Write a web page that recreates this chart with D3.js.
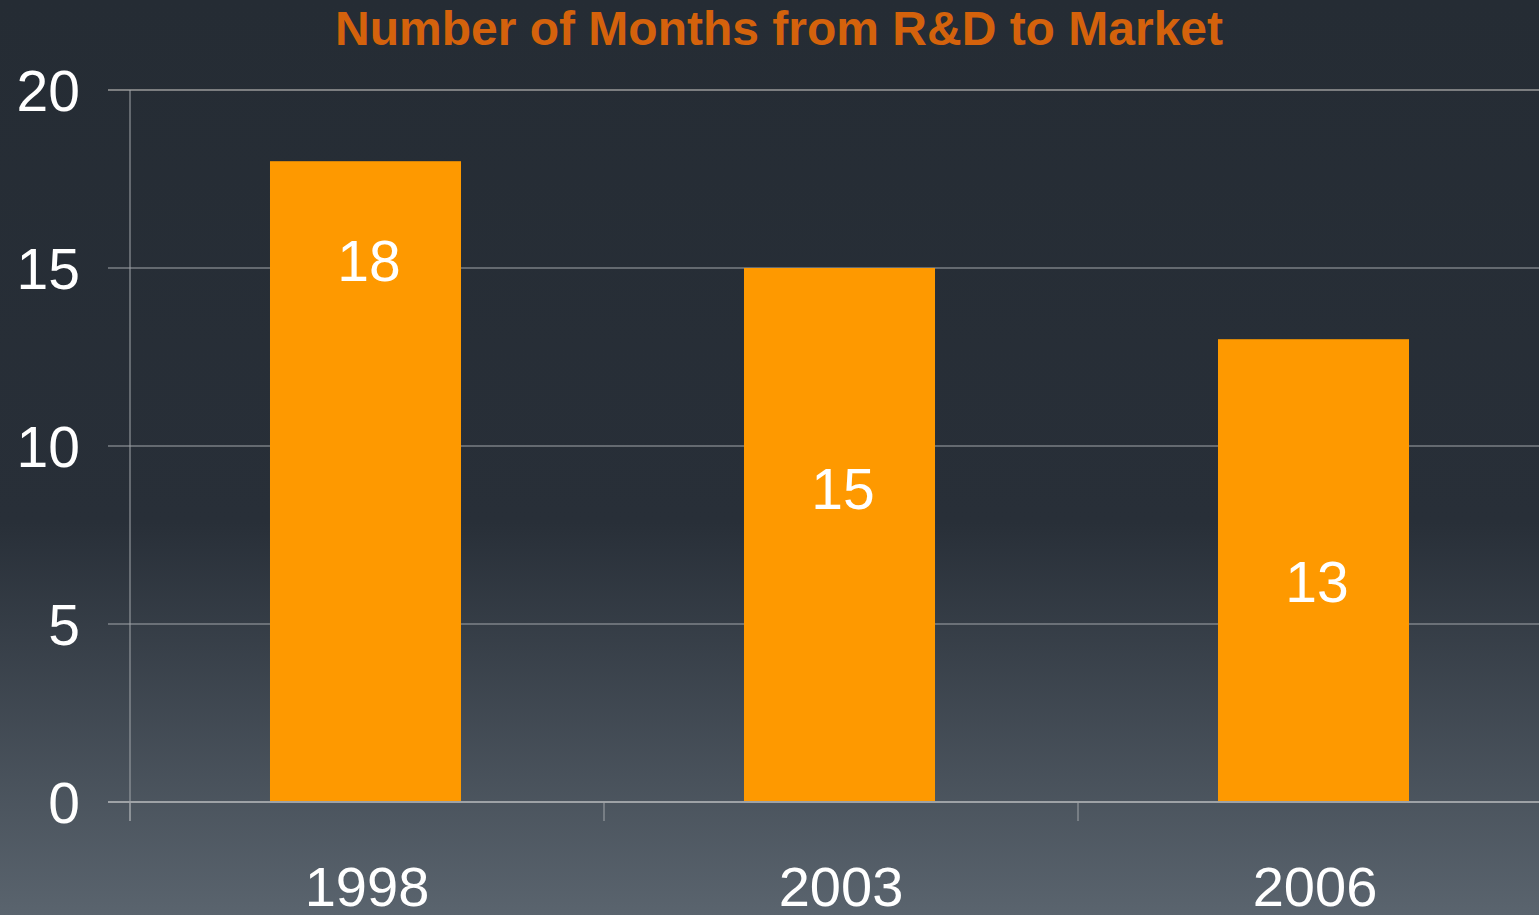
<!DOCTYPE html>
<html>
<head>
<meta charset="utf-8">
<script src="https://cdn.jsdelivr.net/npm/d3@7"></script>
<style>
  html, body { margin: 0; padding: 0; overflow: hidden; background: #262d35; }
  text { font-family: "Liberation Sans", Arial, Helvetica, sans-serif; }
</style>
</head>
<body>
<svg id="chart"></svg>
<script>
// Data
const years = ['1998', '2003', '2006'];
const months = [18, 15, 13];
const labelLevels = [15.2, 8.8, 6.2];   // where the value labels sit, in value units
const yTicks = [0, 5, 10, 15, 20];

// Sizes
const width = 1539;
const height = 915;

const svg = d3.select('#chart')
    .attr('width', width)
    .attr('height', height);

// Background gradient
const grad = svg.append('defs').append('linearGradient')
    .attr('id', 'bg')
    .attr('x1', 0).attr('y1', 0).attr('x2', 0).attr('y2', 1);
grad.append('stop').attr('offset', '0%').attr('stop-color', '#252c34');
grad.append('stop').attr('offset', '57%').attr('stop-color', '#282f38');
grad.append('stop').attr('offset', '100%').attr('stop-color', '#5a646e');

svg.append('rect')
    .attr('width', width)
    .attr('height', height)
    .attr('fill', 'url(#bg)');

// Scales
const x = d3.scaleBand().domain(years).range([130, 1552]).padding(0);
const y = d3.scaleLinear().domain([0, 20]).range([802, 90]);
const barWidth = x.bandwidth() * 0.403;

// Gridlines
svg.append('g').selectAll('line').data(yTicks.filter(d => d > 0))
    .enter().append('line')
        .attr('x1', 108)
        .attr('x2', width)
        .attr('y1', d => y(d))
        .attr('y2', d => y(d))
        .attr('stroke', d => d == 20 ? '#7c7e80' : '#a2a6aa')
        .attr('stroke-width', d => d == 20 ? 2 : 1);

// Y axis
svg.append('line')
    .attr('x1', 130).attr('x2', 130)
    .attr('y1', y(20)).attr('y2', 821)
    .attr('stroke', '#a2a6aa').attr('stroke-width', 1);

svg.append('g').selectAll('text').data(yTicks)
    .enter().append('text')
        .attr('x', 80)
        .attr('y', d => y(d))
        .attr('dy', '0.36em')
        .attr('text-anchor', 'end')
        .attr('fill', '#ffffff')
        .style('font-size', '57px')
        .text(d => d);

// Bars
svg.append('g').selectAll('rect').data(months)
    .enter().append('rect')
        .attr('x', (d, i) => x(years[i]) + x.bandwidth() / 2 - barWidth / 2 - 1.5)
        .attr('y', d => y(d))
        .attr('width', barWidth)
        .attr('height', d => y(0) - y(d))
        .attr('fill', '#fe9900');

// X axis
svg.append('line')
    .attr('x1', 108).attr('x2', width)
    .attr('y1', y(0)).attr('y2', y(0))
    .attr('stroke', '#9ea2a6').attr('stroke-width', 2);

svg.append('g').selectAll('line').data(years)
    .enter().append('line')
        .attr('x1', d => x(d)).attr('x2', d => x(d))
        .attr('y1', y(0)).attr('y2', 821)
        .attr('stroke', '#a2a6aa').attr('stroke-width', 1);

svg.append('g').selectAll('text').data(years)
    .enter().append('text')
        .attr('x', d => x(d) + x.bandwidth() / 2)
        .attr('y', 906)
        .attr('text-anchor', 'middle')
        .attr('fill', '#ffffff')
        .style('font-size', '56px')
        .text(d => d);

// Value labels
svg.append('g').selectAll('text').data(months)
    .enter().append('text')
        .attr('x', (d, i) => x(years[i]) + x.bandwidth() / 2 + 2)
        .attr('y', (d, i) => y(labelLevels[i]))
        .attr('dy', '0.36em')
        .attr('text-anchor', 'middle')
        .attr('fill', '#ffffff')
        .style('font-size', '57px')
        .text(d => d);

// Title
svg.append('text')
    .attr('x', 779)
    .attr('y', 45)
    .attr('text-anchor', 'middle')
    .attr('fill', '#d4620c')
    .style('font-size', '48px')
    .style('font-weight', 'bold')
    .text('Number of Months from R&D to Market');
</script>
</body>
</html>
